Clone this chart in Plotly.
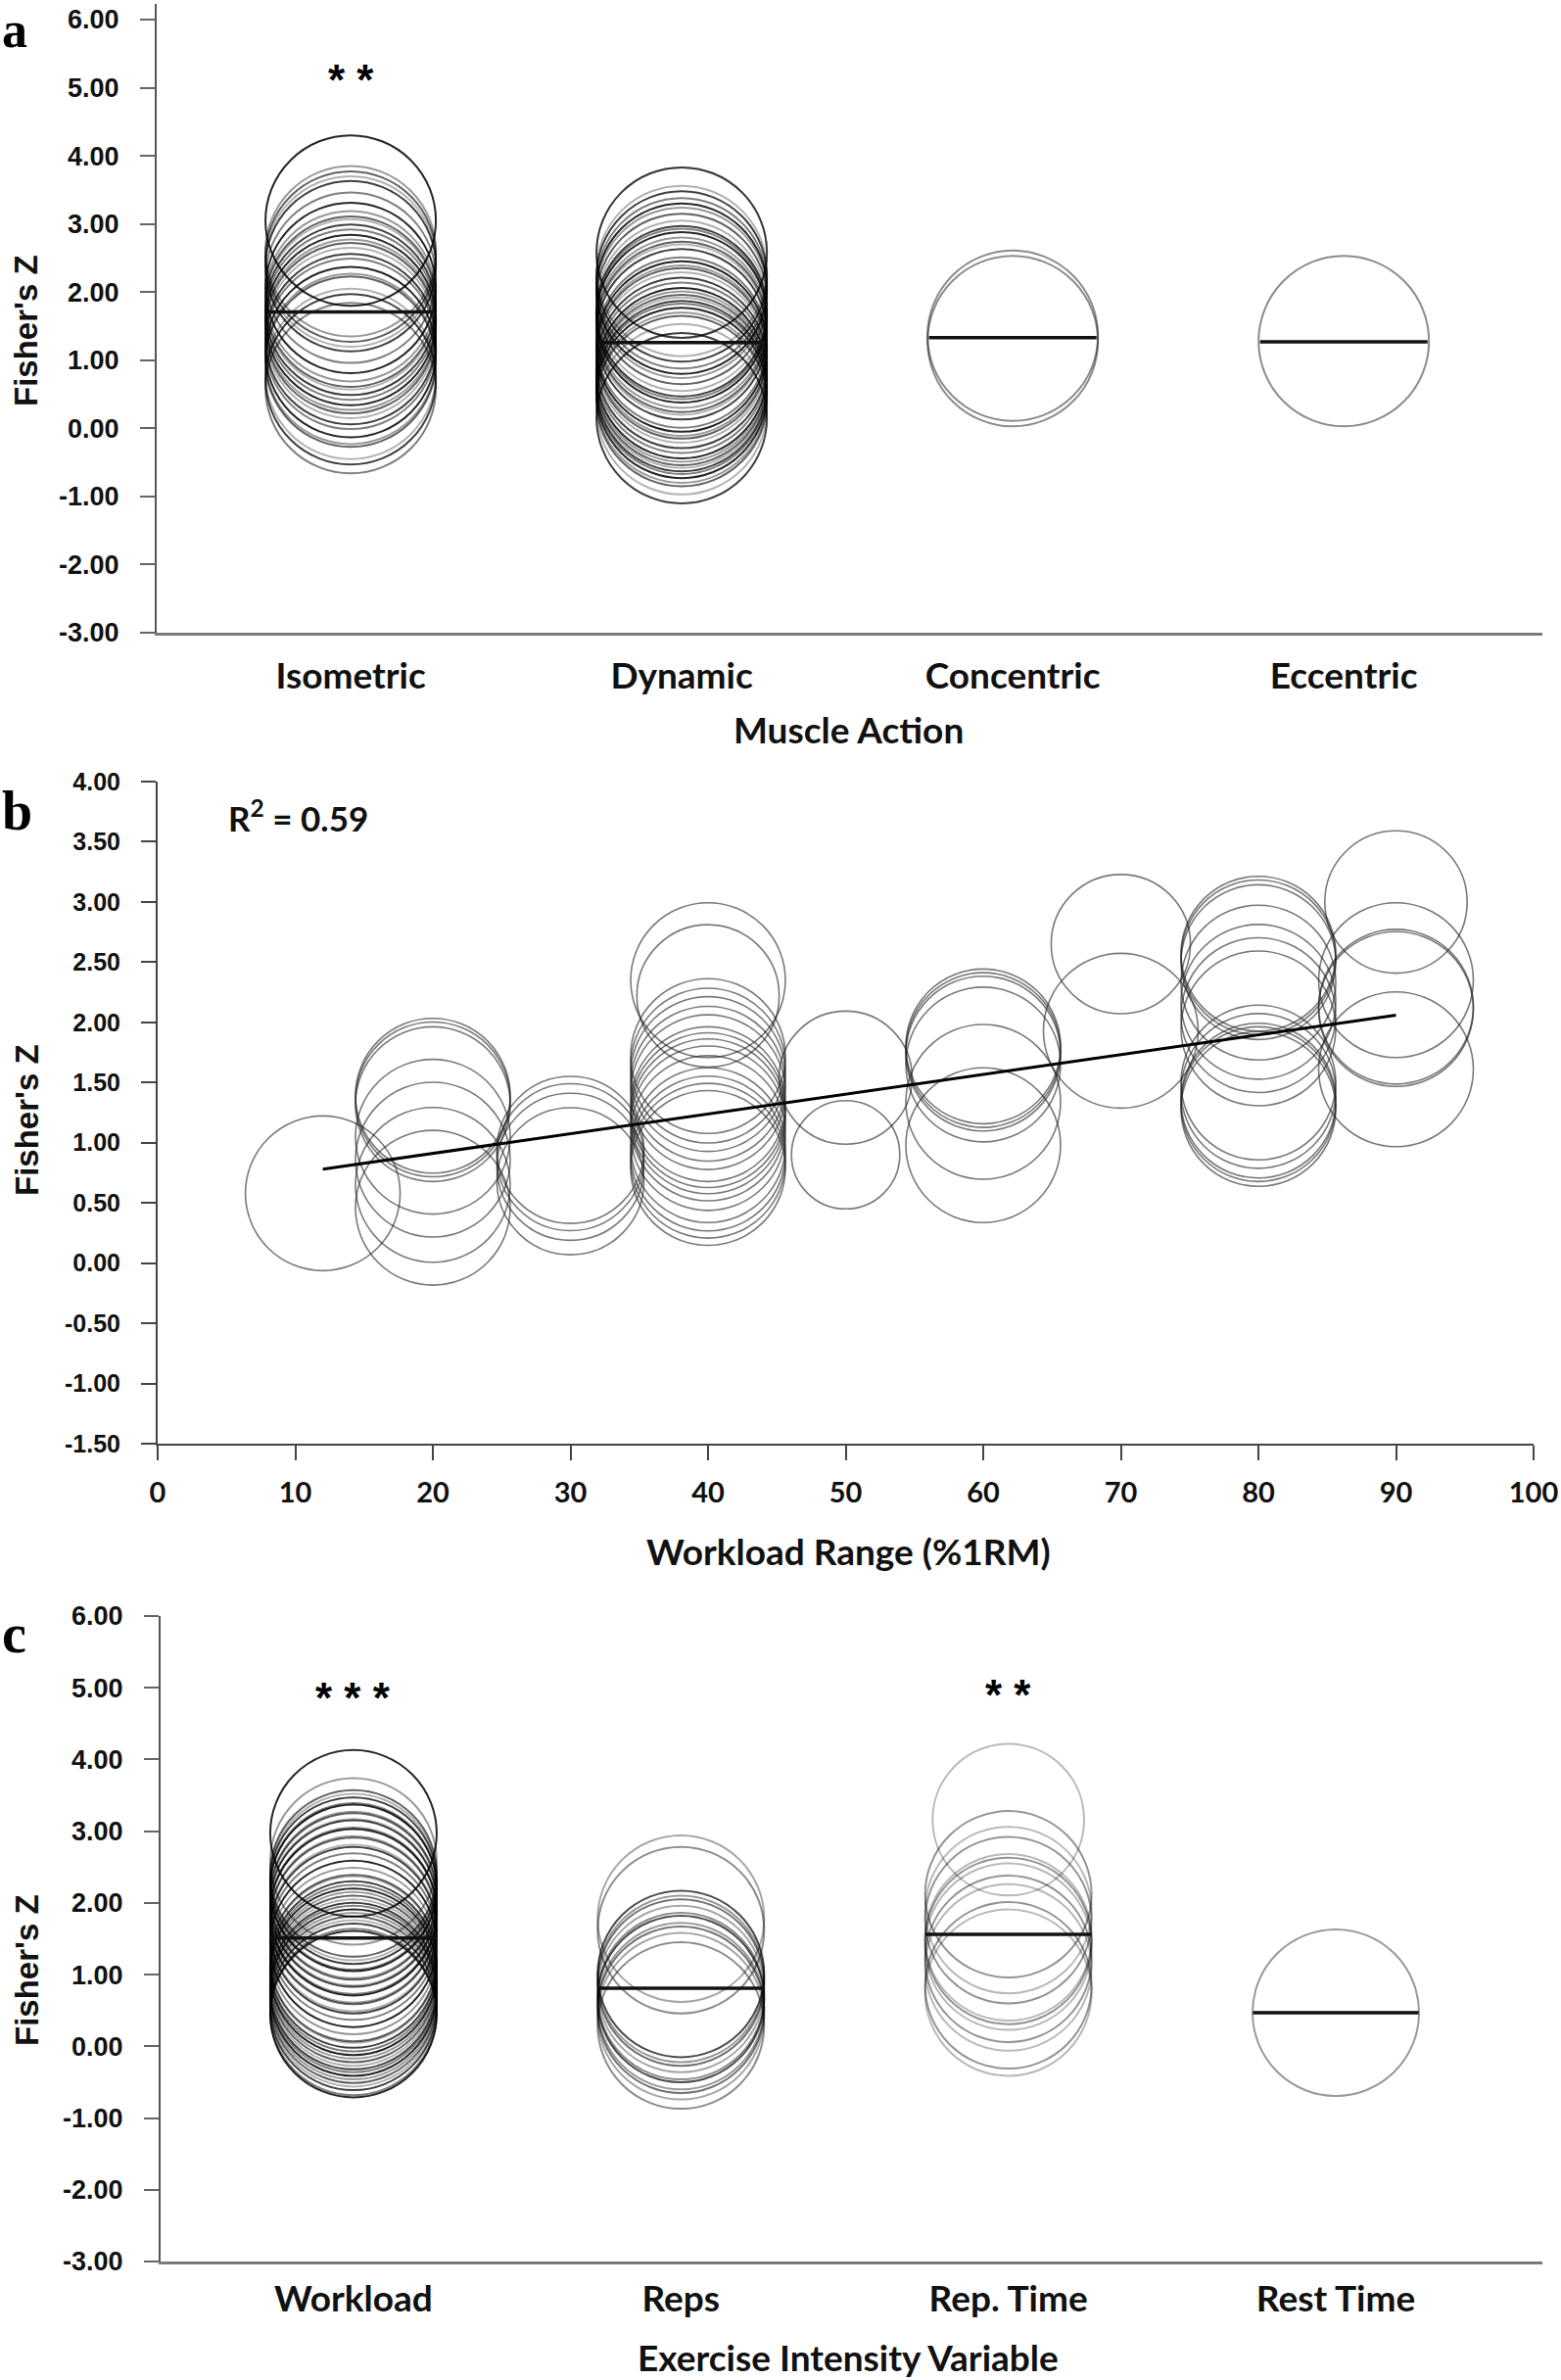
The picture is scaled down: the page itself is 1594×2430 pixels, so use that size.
import plotly.graph_objects as go

W, H = 1594, 2430

# ---------------- Panel a : Muscle Action ----------------
a_categories = ["Isometric", "Dynamic", "Concentric", "Eccentric"]
a_isometric = [3.05, 2.60, 2.52, 2.45, 2.38, 2.21, 2.06, 1.94, 1.86, 1.82, 1.74, 1.67,
               1.59, 1.52, 1.47, 1.40, 1.31, 1.24, 1.12, 1.02, 0.98, 0.80, 0.72, 0.59]
a_dynamic = [2.58, 2.58, 2.31, 2.23, 2.13, 2.05, 1.99, 1.90, 1.80, 1.72, 1.68, 1.63,
             1.55, 1.49, 1.45, 1.38, 1.26, 1.20, 1.14, 1.10, 1.04, 0.96, 0.89, 0.81,
             0.76, 0.71, 0.67, 0.62, 0.58, 0.52, 0.45, 0.40, 0.28, 0.15]
a_concentric = [1.36, 1.28]
a_eccentric = [1.28]
a_means = [1.71, 1.26, 1.33, 1.27]
a_sig = ["* *", "", "", ""]
a_sig_y = [5.12, None, None, None]
a_yticks = [6, 5, 4, 3, 2, 1, 0, -1, -2, -3]
a_yticklabels = ["6.00", "5.00", "4.00", "3.00", "2.00", "1.00", "0.00", "-1.00", "-2.00", "-3.00"]

# ---------------- Panel b : Workload Range ----------------
b_x = [12,
       20, 20, 20, 20, 20, 20, 20,
       30, 30, 30, 30,
       40, 40, 40, 40, 40, 40, 40, 40, 40, 40, 40, 40, 40, 40, 40, 40,
       50, 50,
       60, 60, 60, 60, 60, 60,
       70, 70,
       80, 80, 80, 80, 80, 80, 80, 80, 80, 80, 80, 80,
       90, 90, 90, 90, 90]
b_z = [0.58,
       1.39, 1.36, 1.32, 1.05, 0.86, 0.65, 0.46,
       0.94, 0.88, 0.80, 0.68,
       2.35, 2.22, 1.72, 1.64, 1.57, 1.49, 1.42, 1.32, 1.27, 1.22, 1.16, 1.08, 0.98, 0.91, 0.85, 0.79,
       1.54, 0.90,
       1.80, 1.77, 1.74, 1.65, 1.34, 0.98,
       2.65, 1.93,
       2.57, 2.54, 2.50, 2.33, 2.17, 2.06, 1.95, 1.50, 1.43, 1.35, 1.32, 1.28,
       3.00, 2.35, 2.13, 2.11, 1.61]
b_w = [1.0,
       1.0, 1.0, 1.0, 1.0, 1.0, 1.0, 1.0,
       0.95, 0.95, 0.95, 0.95,
       1.0, 0.92, 1.0, 1.0, 1.0, 1.0, 1.0, 1.0, 1.0, 1.0, 1.0, 1.0, 1.0, 1.0, 1.0, 1.0,
       0.86, 0.70,
       1.0, 1.0, 1.0, 1.0, 1.0, 1.0,
       0.90, 1.0,
       1.0, 1.0, 1.0, 1.0, 1.0, 1.0, 1.0, 1.0, 1.0, 1.0, 1.0, 1.0,
       0.92, 1.0, 1.0, 1.0, 1.0]
b_fit_x = [12, 90]
b_fit_z = [0.78, 2.06]
b_r2 = "0.59"
b_xticks = [0, 10, 20, 30, 40, 50, 60, 70, 80, 90, 100]
b_yticks = [4.0, 3.5, 3.0, 2.5, 2.0, 1.5, 1.0, 0.5, 0.0, -0.5, -1.0, -1.5]
b_yticklabels = ["4.00", "3.50", "3.00", "2.50", "2.00", "1.50", "1.00", "0.50",
                 "0.00", "-0.50", "-1.00", "-1.50"]

# ---------------- Panel c : Exercise Intensity Variable ----------------
c_categories = ["Workload", "Reps", "Rep. Time", "Rest Time"]
c_workload = [2.97, 2.58, 2.41, 2.36, 2.31, 2.23, 2.21, 2.11, 2.09, 2.01, 1.99, 1.89,
              1.87, 1.77, 1.75, 1.65, 1.62, 1.53, 1.43, 1.33, 1.23, 1.21, 1.14, 1.09,
              1.04, 0.99, 0.94, 0.89, 0.84, 0.80, 0.75, 0.70, 0.65, 0.60, 0.55, 0.48, 0.45]
c_reps = [1.78, 1.62, 1.01, 0.94, 0.89, 0.80, 0.70, 0.66, 0.56, 0.51, 0.42, 0.29]
c_reptime = [3.16, 2.12, 1.90, 1.76, 1.52, 1.47, 1.39, 1.22, 1.10, 0.85, 0.75]
c_reptime_w = [0.91, 1, 1, 1, 1, 1, 1, 1, 1, 1, 1]
c_resttime = [0.47]
c_means = [1.51, 0.81, 1.56, 0.47]
c_sig = ["* * *", "", "* *", ""]
c_sig_y = [4.86, None, 4.90, None]
c_yticks = a_yticks
c_yticklabels = a_yticklabels

# ---------------- style ----------------
CAT_FONT = dict(family="Lato", size=37, color="#111111", weight="bold")
TICK_FONT = dict(family="Liberation Sans", size=27, color="#111111", weight="bold")
TITLE_FONT = dict(family="Lato", size=37, color="#111111", weight="bold")
YTITLE_FONT = dict(family="Liberation Sans", size=33, color="#111111", weight="bold")
SHADES = ["rgba(0,0,0,0.85)", "rgba(0,0,0,0.40)", "rgba(0,0,0,0.62)",
          "rgba(0,0,0,0.30)", "rgba(0,0,0,0.75)", "rgba(0,0,0,0.50)"]
HALF = 0.253  # half-width of the mean line in category units


def shades(n, offset=0):
    return [SHADES[(i + offset) % len(SHADES)] for i in range(n)]


fig = go.Figure()


def add_group(xpos, values, size, xa, ya, colors, width=2.0):
    fig.add_trace(go.Scatter(
        x=[xpos] * len(values), y=values, mode="markers",
        marker=dict(symbol="circle-open", size=size, color=colors,
                    line=dict(width=width)),
        xaxis=xa, yaxis=ya, showlegend=False, hoverinfo="y"))


def add_mean(xpos, m, xa, ya):
    fig.add_trace(go.Scatter(
        x=[xpos - HALF, xpos + HALF], y=[m, m], mode="lines",
        line=dict(color="#111111", width=3.5),
        xaxis=xa, yaxis=ya, showlegend=False, hoverinfo="y"))


# panel a
a_groups = [a_isometric, a_dynamic, a_concentric, a_eccentric]
for i, vals in enumerate(a_groups):
    cols = shades(len(vals), i) if len(vals) > 2 else ["rgba(0,0,0,0.45)"] * len(vals)
    add_group(i, vals, 174, "x", "y", cols)
for i, m in enumerate(a_means):
    add_mean(i, m, "x", "y")

# panel b
fig.add_trace(go.Scatter(
    x=b_x, y=b_z, mode="markers",
    marker=dict(symbol="circle-open", size=[158 * w for w in b_w],
                color="rgba(30,30,30,0.85)", line=dict(width=1.6)),
    xaxis="x2", yaxis="y2", showlegend=False, hoverinfo="x+y"))
fig.add_trace(go.Scatter(
    x=b_fit_x, y=b_fit_z, mode="lines", line=dict(color="#000000", width=3),
    xaxis="x2", yaxis="y2", showlegend=False, hoverinfo="skip"))

# panel c
REPS_SHADES = ["rgba(0,0,0,0.35)", "rgba(0,0,0,0.45)", "rgba(0,0,0,0.70)",
               "rgba(0,0,0,0.40)", "rgba(0,0,0,0.55)"]
c_groups = [c_workload, c_reps, c_reptime, c_resttime]
for i, vals in enumerate(c_groups):
    if i == 2:
        fig.add_trace(go.Scatter(
            x=[i] * len(vals), y=vals, mode="markers",
            marker=dict(symbol="circle-open", size=[170 * w for w in c_reptime_w],
                        color=["rgba(0,0,0,0.40)", "rgba(0,0,0,0.60)"] * 6,
                        line=dict(width=2)),
            xaxis="x3", yaxis="y3", showlegend=False, hoverinfo="y"))
    elif i == 3:
        add_group(i, vals, 170, "x3", "y3", ["rgba(0,0,0,0.40)"])
    elif i == 1:
        add_group(i, vals, 170, "x3", "y3",
                  [REPS_SHADES[k % len(REPS_SHADES)] for k in range(len(vals))])
    else:
        add_group(i, vals, 170, "x3", "y3", shades(len(vals), i))
for i, m in enumerate(c_means):
    add_mean(i, m, "x3", "y3")


def px_x(p):
    return p / W


def px_y(p):
    return 1 - p / H


cat_x_common = dict(tickmode="array", tickvals=[0, 1, 2, 3], ticks="",
                    showgrid=False, zeroline=False, showline=True,
                    linecolor="#7a7a7a", linewidth=3, tickfont=CAT_FONT,
                    fixedrange=True, automargin=False)
y_common = dict(tickmode="array", ticks="outside", ticklen=15, tickwidth=2,
                tickcolor="#666666", showgrid=False, zeroline=False, showline=True,
                linecolor="#555555", linewidth=2, tickfont=TICK_FONT, fixedrange=True,
                ticklabelstandoff=16, automargin=False)

A_PX_PER_UNIT = (646 - 20) / 9.0  # panel a: 6.00 tick at y=20 px, -3.00 at y=646 px

fig.update_layout(
    width=W, height=H, margin=dict(l=0, r=0, t=0, b=0, pad=0), autosize=False,
    paper_bgcolor="white", plot_bgcolor="white", showlegend=False,
    xaxis=dict(domain=[px_x(160), px_x(1575)], range=[-0.586, 3.60], anchor="y",
               ticktext=a_categories, ticklabelstandoff=10, **cat_x_common),
    yaxis=dict(domain=[px_y(646), px_y(4)], range=[-3, 6 + 16 / A_PX_PER_UNIT], anchor="x",
               tickvals=a_yticks, ticktext=a_yticklabels, **y_common),
    xaxis2=dict(domain=[px_x(161), px_x(1566)], range=[0, 100], anchor="y2",
                tickmode="array", tickvals=b_xticks, ticks="outside", ticklen=15,
                tickwidth=2, tickcolor="#444444", showgrid=False, zeroline=False,
                showline=True, linecolor="#444444", linewidth=2,
                tickfont=dict(family="Lato", size=29, color="#111111", weight="bold"),
                ticklabelstandoff=8, fixedrange=True, automargin=False),
    yaxis2=dict(domain=[px_y(1474), px_y(798)], range=[-1.5, 4.0], anchor="x2",
                tickvals=b_yticks, ticktext=b_yticklabels,
                **{**y_common, "tickfont": dict(family="Liberation Sans", size=25,
                                                 color="#111111", weight="bold"),
                   "linecolor": "#444444", "tickcolor": "#444444"}),
    xaxis3=dict(domain=[px_x(164), px_x(1575)], range=[-0.589, 3.631], anchor="y3",
                ticktext=c_categories, ticklabelstandoff=4, **cat_x_common),
    yaxis3=dict(domain=[px_y(2309), px_y(1650)], range=[-3, 6], anchor="x3",
                tickvals=c_yticks, ticktext=c_yticklabels, **y_common),
)

ann = []
# panel letters
for letter, y, size in [("a", 31, 52), ("b", 828, 56), ("c", 1668, 56)]:
    ann.append(dict(text=letter, x=px_x(0), y=px_y(y), xref="paper", yref="paper",
                    xanchor="left", yanchor="middle", showarrow=False,
                    font=dict(family="Liberation Serif", size=size, color="#000000",
                              weight="bold")))
# y titles
for y in [338, 1144, 2012]:
    ann.append(dict(text="Fisher's Z", x=px_x(27), y=px_y(y), xref="paper", yref="paper",
                    xanchor="center", yanchor="middle", textangle=-90, showarrow=False,
                    font=YTITLE_FONT))
# x titles
for t, y in [("Muscle Action", 744), ("Workload Range (%1RM)", 1583),
             ("Exercise Intensity Variable", 2406)]:
    ann.append(dict(text=t, x=px_x(866), y=px_y(y), xref="paper", yref="paper",
                    xanchor="center", yanchor="middle", showarrow=False, font=TITLE_FONT))
# significance stars
SIG_FONT = dict(family="Liberation Sans", size=44, color="#000000", weight="bold")
for i, (s, yv) in enumerate(zip(a_sig, a_sig_y)):
    if s:
        ann.append(dict(text=s, x=i, y=yv, xref="x", yref="y", showarrow=False,
                        xanchor="center", yanchor="middle", font=SIG_FONT))
for i, (s, yv) in enumerate(zip(c_sig, c_sig_y)):
    if s:
        ann.append(dict(text=s, x=i, y=yv, xref="x3", yref="y3", showarrow=False,
                        xanchor="center", yanchor="middle", font=SIG_FONT))
# R squared
ann.append(dict(text="R<sup>2</sup> = " + b_r2, x=px_x(231), y=px_y(833), xref="paper",
                yref="paper", xanchor="left", yanchor="middle", showarrow=False,
                font=dict(family="Lato", size=35, color="#111111", weight="bold")))
fig.update_layout(annotations=ann)

fig.write_html("out.html", config={"displayModeBar": False},
               post_script="document.body.style.margin='0px';"
                           "document.body.style.overflow='hidden';")
